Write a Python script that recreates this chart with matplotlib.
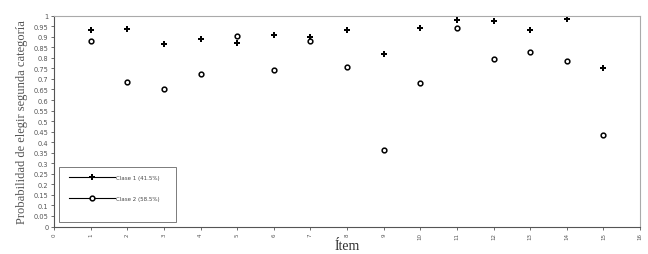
import matplotlib.pyplot as plt
from matplotlib.patches import Rectangle

items = list(range(1, 16))
clase1 = [0.934, 0.935, 0.867, 0.888, 0.870, 0.908, 0.899, 0.934, 0.818, 0.941, 0.981, 0.973, 0.934, 0.986, 0.752]
clase2 = [0.878, 0.686, 0.651, 0.724, 0.902, 0.741, 0.882, 0.757, 0.363, 0.681, 0.941, 0.793, 0.826, 0.785, 0.433]
labels = ['Clase 1 (41.5%)', 'Clase 2 (58.5%)']

fig = plt.figure(figsize=(6.48, 2.55), dpi=100)
ax = fig.add_axes([54 / 648, 1 - 227.5 / 255, 586 / 648, 210.8 / 255])

ax.plot(items, clase1, linestyle='none', marker='P', markersize=5, color='black',
        markeredgewidth=0, label=labels[0])
ax.plot(items, clase2, linestyle='none', marker='o', markersize=3.4, markerfacecolor='white',
        markeredgecolor='black', markeredgewidth=1.1, label=labels[1])

ax.set_xlim(0, 16)
ax.set_ylim(0, 1)
ax.set_xticks(range(0, 17))
ax.set_xticklabels([str(i) for i in range(0, 17)], rotation=90)
ax.set_yticks([i * 0.05 for i in range(21)])
ax.set_yticklabels(['0'] + ['%g' % round(i * 0.05, 2) for i in range(1, 21)])
ax.tick_params(axis='y', labelsize=4.8, length=2.5, width=0.6, colors='#555555', pad=1.5)
ax.tick_params(axis='x', labelsize=4, length=2.5, width=0.6, colors='#555555', pad=1.5)

for side in ['left', 'bottom']:
    ax.spines[side].set_color('#555555')
    ax.spines[side].set_linewidth(0.8)
for side in ['top', 'right']:
    ax.spines[side].set_color('#aaaaaa')
    ax.spines[side].set_linewidth(0.8)

ax.set_ylabel('Probabilidad de elegir segunda categoría', family='Liberation Serif',
              fontsize=9, color='#555555', labelpad=4)
ax.set_xlabel('Ítem', family='Liberation Serif', fontsize=10, color='#333333')
ax.xaxis.set_label_coords(0.5, -0.058)

# legend box in lower left, lines drawn through the markers like the original
ax.add_patch(Rectangle((0.0085, 0.021), 0.2, 0.261, transform=ax.transAxes,
                       facecolor='white', edgecolor='#666666', linewidth=0.6, zorder=4))
h1, = ax.plot([], [], color='black', linewidth=0.8, marker='P', markersize=5, markeredgewidth=0)
h2, = ax.plot([], [], color='black', linewidth=0.8, marker='o', markersize=3.4,
              markerfacecolor='white', markeredgecolor='black', markeredgewidth=1.1)
leg = ax.legend([h1, h2], labels, loc='center left', bbox_to_anchor=(0.0256, 0.183),
                prop={'size': 4, 'family': 'DejaVu Sans'}, frameon=False,
                handlelength=8.3, handletextpad=0.1, labelspacing=2.8,
                borderpad=0, borderaxespad=0)
leg.set_zorder(5)
for t in leg.get_texts():
    t.set_color('#444444')

plt.savefig('out.png', dpi=100)
